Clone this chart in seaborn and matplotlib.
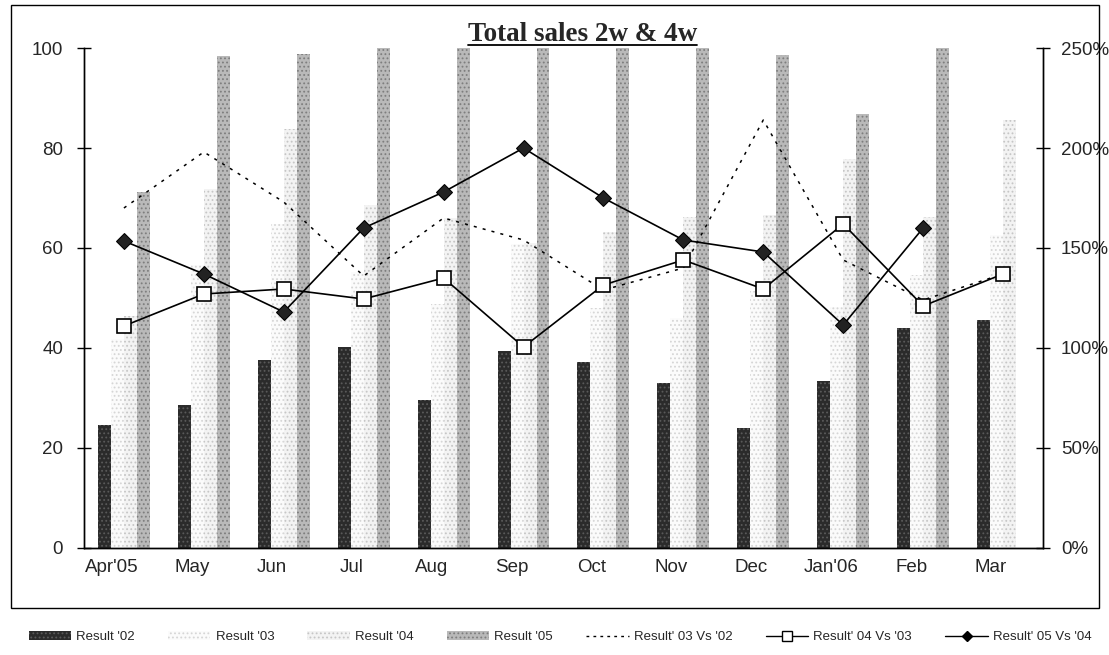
import numpy as np
import pandas as pd
import matplotlib.pyplot as plt
import seaborn as sns
from matplotlib.patches import Patch, Rectangle
from matplotlib.lines import Line2D
from matplotlib.transforms import ScaledTranslation

# Data
months = ["Apr'05", "May", "Jun", "Jul", "Aug", "Sep", "Oct", "Nov", "Dec", "Jan'06", "Feb", "Mar"]
result_02 = [24.6, 28.6, 37.6, 40.2, 29.6, 39.4, 37.2, 33.0, 24.0, 33.4, 44.0, 45.6]
result_03 = [41.8, 56.6, 64.7, 55.1, 48.8, 60.7, 48.0, 45.9, 51.4, 48.1, 54.6, 62.5]
result_04 = [46.4, 71.9, 83.8, 68.6, 65.9, 61.0, 63.1, 66.1, 66.6, 77.9, 66.1, 85.6]
result_05 = [71.2, 98.5, 98.9, 109.8, 117.3, 122.0, 110.4, 101.8, 98.6, 86.9, 105.8, np.nan]

# ratios in %
r03_vs_02 = [170, 198, 173, 136, 165, 154, 129, 140, 214, 144, 124, 137]
r04_vs_03 = [111, 127, 129.5, 124.5, 135, 100.5, 131.5, 144, 129.5, 162, 121, 137]
r05_vs_04 = [153.5, 137, 118, 160, 178, 200, 175, 154, 148, 111.5, 160, np.nan]

series_names = ["Result '02", "Result '03", "Result '04", "Result '05"]
bar_face = ['#2b2b2b', '#fbfbfb', '#f3f3f3', '#b9b9b9']
bar_hatch = ['#5a5a5a', '#d6d6d6', '#c6c6c6', '#7e7e7e']

df = pd.DataFrame({
    'month': months * 4,
    'series': np.repeat(series_names, len(months)),
    'value': result_02 + result_03 + result_04 + result_05,
})

sns.set_style('white')
plt.rcParams['font.family'] = ['Liberation Sans', 'DejaVu Sans']
plt.rcParams['hatch.linewidth'] = 0.8

fig = plt.figure(figsize=(11.09, 6.55), dpi=100)
ax = fig.add_axes([0.0757, 0.1634, 0.8648, 0.7633])

sns.barplot(data=df, x='month', y='value', hue='series', order=months,
            hue_order=series_names, palette=bar_face, width=0.65,
            errorbar=None, legend=False, ax=ax)
for cont, fc, hc in zip(ax.containers, bar_face, bar_hatch):
    for p in cont:
        p.set_facecolor(fc)
        p.set_edgecolor(hc)
        p.set_hatch('....')
        p.set_linewidth(0)

ax.set_xlim(-0.5, 11.5)
ax.set_ylim(0, 100)
ax.set_yticks(range(0, 101, 20))
ax.set_xlabel('')
ax.set_ylabel('')
ax.set_xticks(np.arange(-0.5, 12, 1), minor=True)
ax.tick_params(axis='x', which='major', length=0, labelsize=13.5, pad=8)
ax.tick_params(axis='x', which='minor', direction='inout', length=10, width=1, color='black')
ax.tick_params(axis='y', direction='inout', length=10, width=1, color='black', labelsize=13.5, pad=10)
for lab in ax.get_xticklabels():
    lab.set_transform(lab.get_transform() + ScaledTranslation(-0.12, 0, fig.dpi_scale_trans))

ax2 = ax.twinx()
x = np.arange(len(months))
sns.lineplot(x=x, y=r03_vs_02, ax=ax2, color='black', linewidth=1.1,
             linestyle=(0, (2, 4)))
sns.lineplot(x=x, y=r04_vs_03, ax=ax2, color='black', linewidth=1.2,
             marker='s', markersize=10, markerfacecolor='white',
             markeredgecolor='black', markeredgewidth=1.2)
sns.lineplot(x=x, y=r05_vs_04, ax=ax2, color='black', linewidth=1.2,
             marker='D', markersize=8, markerfacecolor='#222222',
             markeredgecolor='black')
ax2.set_ylim(0, 250)
ax2.set_yticks(range(0, 251, 50))
ax2.set_yticklabels([f'{v}%' for v in range(0, 251, 50)])
ax2.tick_params(axis='y', direction='inout', length=10, width=1, color='black', labelsize=13.5, pad=8)
ax2.set_xlim(-0.5, 11.5)

for a in (ax, ax2):
    a.spines['top'].set_visible(False)
    for s in ('left', 'right', 'bottom'):
        a.spines[s].set_color('black')
        a.spines[s].set_linewidth(1)

# title, underlined
title = fig.text(0.525, 0.938, 'Total sales 2w & 4w', ha='center', va='baseline',
                 fontsize=19.5, fontweight='bold', family=['Liberation Serif', 'DejaVu Serif'])
fig.canvas.draw()
bb = title.get_window_extent().transformed(fig.transFigure.inverted())
fig.add_artist(Line2D([bb.x0, bb.x1], [0.931, 0.931], color='black', lw=1.3,
                      transform=fig.transFigure))

# outer frame
fig.add_artist(Rectangle((0.0099, 0.0718), 0.981, 0.9206, fill=False,
                         edgecolor='black', lw=1, transform=fig.transFigure))

handles = [Patch(facecolor=fc, edgecolor=hc, hatch='....', linewidth=0, label=n)
           for n, fc, hc in zip(series_names, bar_face, bar_hatch)]
handles += [
    Line2D([], [], color='black', lw=1, linestyle=(0, (2, 3)), label="Result' 03 Vs '02"),
    Line2D([], [], color='black', lw=1, marker='s', markersize=7, markerfacecolor='white',
           label="Result' 04 Vs '03"),
    Line2D([], [], color='black', lw=1, marker='D', markersize=5, markerfacecolor='black',
           label="Result' 05 Vs '04"),
]
fig.legend(handles=handles, loc='lower left', bbox_to_anchor=(0.015, 0.0, 0.98, 0.06),
           ncol=7, mode='expand', frameon=False, handlelength=3.2, handletextpad=0.4,
           prop={'family': ['Liberation Sans Narrow', 'Liberation Sans', 'DejaVu Sans'], 'size': 9.5})

plt.savefig('out.png', dpi=100)
